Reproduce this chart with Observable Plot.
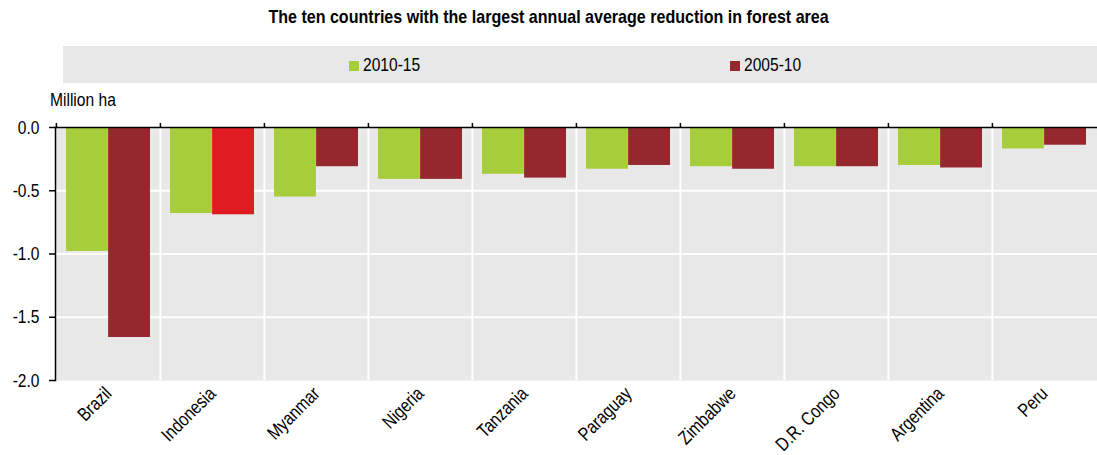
<!DOCTYPE html>
<html>
<head>
<meta charset="utf-8">
<script src="https://cdn.jsdelivr.net/npm/d3@7"></script>
<script src="https://cdn.jsdelivr.net/npm/@observablehq/plot@0.6"></script>
<style>
  html, body { margin: 0; padding: 0; background: #fff; }
  body {
    position: relative; width: 1097px; height: 455px; overflow: hidden;
    font-family: "Liberation Sans Narrow", "Arial Narrow", "Liberation Sans", Arial, sans-serif;
    color: #000;
  }
  .narrow { display: inline-block; transform: scaleX(0.82); transform-origin: left center; white-space: nowrap; }
  #title {
    position: absolute; left: 0; top: 4px; width: 1097px; text-align: center;
    font-weight: bold; font-size: 19px; line-height: 26px;
  }
  #title span { display: inline-block; transform: scaleX(0.845); transform-origin: center center; white-space: nowrap; }
  #legend {
    position: absolute; left: 63px; top: 46px; width: 1034px; height: 37px;
    background: #e8e8e8; font-size: 19px;
  }
  .item { position: absolute; top: 0; height: 37px; line-height: 37px; white-space: nowrap; }
  .swatch { display: inline-block; width: 10px; height: 10px; margin-right: 4px; vertical-align: 0px; }
  #unit { position: absolute; left: 50px; top: 88px; font-size: 19px; line-height: 24px; }
  #chart { position: absolute; left: 0; top: 88px; }
</style>
</head>
<body>
<div id="title"><span></span></div>
<div id="legend"></div>
<div id="unit"><span class="narrow">Million ha</span></div>
<div id="chart"></div>
<script>
// Annual change in forest area, million hectares per year
const countries = ["Brazil", "Indonesia", "Myanmar", "Nigeria", "Tanzania", "Paraguay", "Zimbabwe", "D.R. Congo", "Argentina", "Peru"];
const periods = ["2010-15", "2005-10"];
const change2010_15 = [-0.98, -0.68, -0.55, -0.41, -0.37, -0.33, -0.31, -0.31, -0.30, -0.17];
const change2005_10 = [-1.66, -0.69, -0.31, -0.41, -0.40, -0.30, -0.33, -0.31, -0.32, -0.14];
const highlighted = "Indonesia";
const yTicks = [0, -0.5, -1, -1.5, -2];
const titleText = "The ten countries with the largest annual average reduction in forest area";

const colors = { "2010-15": "#a8cd3b", "2005-10": "#95272f", highlight: "#e11b22" };

document.querySelector("#title span").textContent = titleText;

// Legend
const legendPos = { "2010-15": 286, "2005-10": 667 };
const legend = document.getElementById("legend");
for (const p of periods) {
  const item = document.createElement("div");
  item.className = "item";
  item.style.left = legendPos[p] + "px";
  const sw = document.createElement("span");
  sw.className = "swatch";
  sw.style.background = colors[p];
  item.appendChild(sw);
  const label = document.createElement("span");
  label.className = "narrow";
  label.textContent = p;
  item.appendChild(label);
  legend.appendChild(item);
}

const rows2010 = countries.map((c, i) => ({ country: c, period: "2010-15", value: change2010_15[i] }));
const rows2005 = countries.map((c, i) => ({ country: c, period: "2005-10", value: change2005_10[i] }));

const width = 1097, marginLeft = 55, marginRight = 0;
const bw = (width - marginLeft - marginRight) / countries.length;
const outer = bw * 0.096, inner = bw / 2;
const fmt = d => d.toFixed(1);
const font = '"Liberation Sans Narrow", "Arial Narrow", "Liberation Sans", Arial, sans-serif';

const chart = Plot.plot({
  width, height: 367,
  marginLeft, marginRight, marginTop: 39, marginBottom: 75,
  style: { fontFamily: font, fontSize: "19px", color: "#000", background: "transparent" },
  x: { type: "band", domain: countries, padding: 0, label: null },
  y: { domain: [-2, 0], label: null },
  marks: [
    Plot.frame({ fill: "#e8e8e8", stroke: null }),
    Plot.gridY(yTicks.slice(1, -1), { stroke: "white", strokeOpacity: 1, strokeWidth: 2 }),
    Plot.gridX(countries.slice(1), { stroke: "white", strokeOpacity: 1, strokeWidth: 2, dx: -bw / 2 }),
    Plot.barY(rows2010, { x: "country", y: "value", fill: colors["2010-15"], insetLeft: outer, insetRight: inner }),
    Plot.barY(rows2005, {
      x: "country", y: "value",
      fill: d => d.country === highlighted ? colors.highlight : colors["2005-10"],
      insetLeft: inner, insetRight: outer
    }),
    Plot.ruleY([0], { stroke: "#000", strokeWidth: 1.5 }),
    Plot.frame({ anchor: "left", stroke: "#000", strokeWidth: 1.5 }),
    Plot.axisY({ ticks: yTicks, tickFormat: fmt, tickSize: 6, tickPadding: 10, stroke: "#000", strokeWidth: 1.5, label: null, fontSize: 19 }),
    Plot.axisX({ anchor: "top", tickSize: 5, tickFormat: () => "", dx: -bw / 2, stroke: "#000", strokeWidth: 1.5, label: null }),
    Plot.axisX({ anchor: "bottom", tickSize: 0, tickPadding: 10, tickRotate: -45, label: null, fontSize: 19 })
  ]
});

// Condense the SVG labels horizontally along their own baseline
const num = v => { const n = parseFloat(v); return Number.isFinite(n) ? n : 0; };
for (const t of chart.querySelectorAll("text")) {
  const x = num(t.getAttribute("x")), y = num(t.getAttribute("y"));
  const tr = t.getAttribute("transform") || "";
  t.setAttribute("transform", `${tr} translate(${x} ${y}) scale(0.82 1) translate(${-x} ${-y})`.trim());
}
document.getElementById("chart").appendChild(chart);
</script>
</body>
</html>
